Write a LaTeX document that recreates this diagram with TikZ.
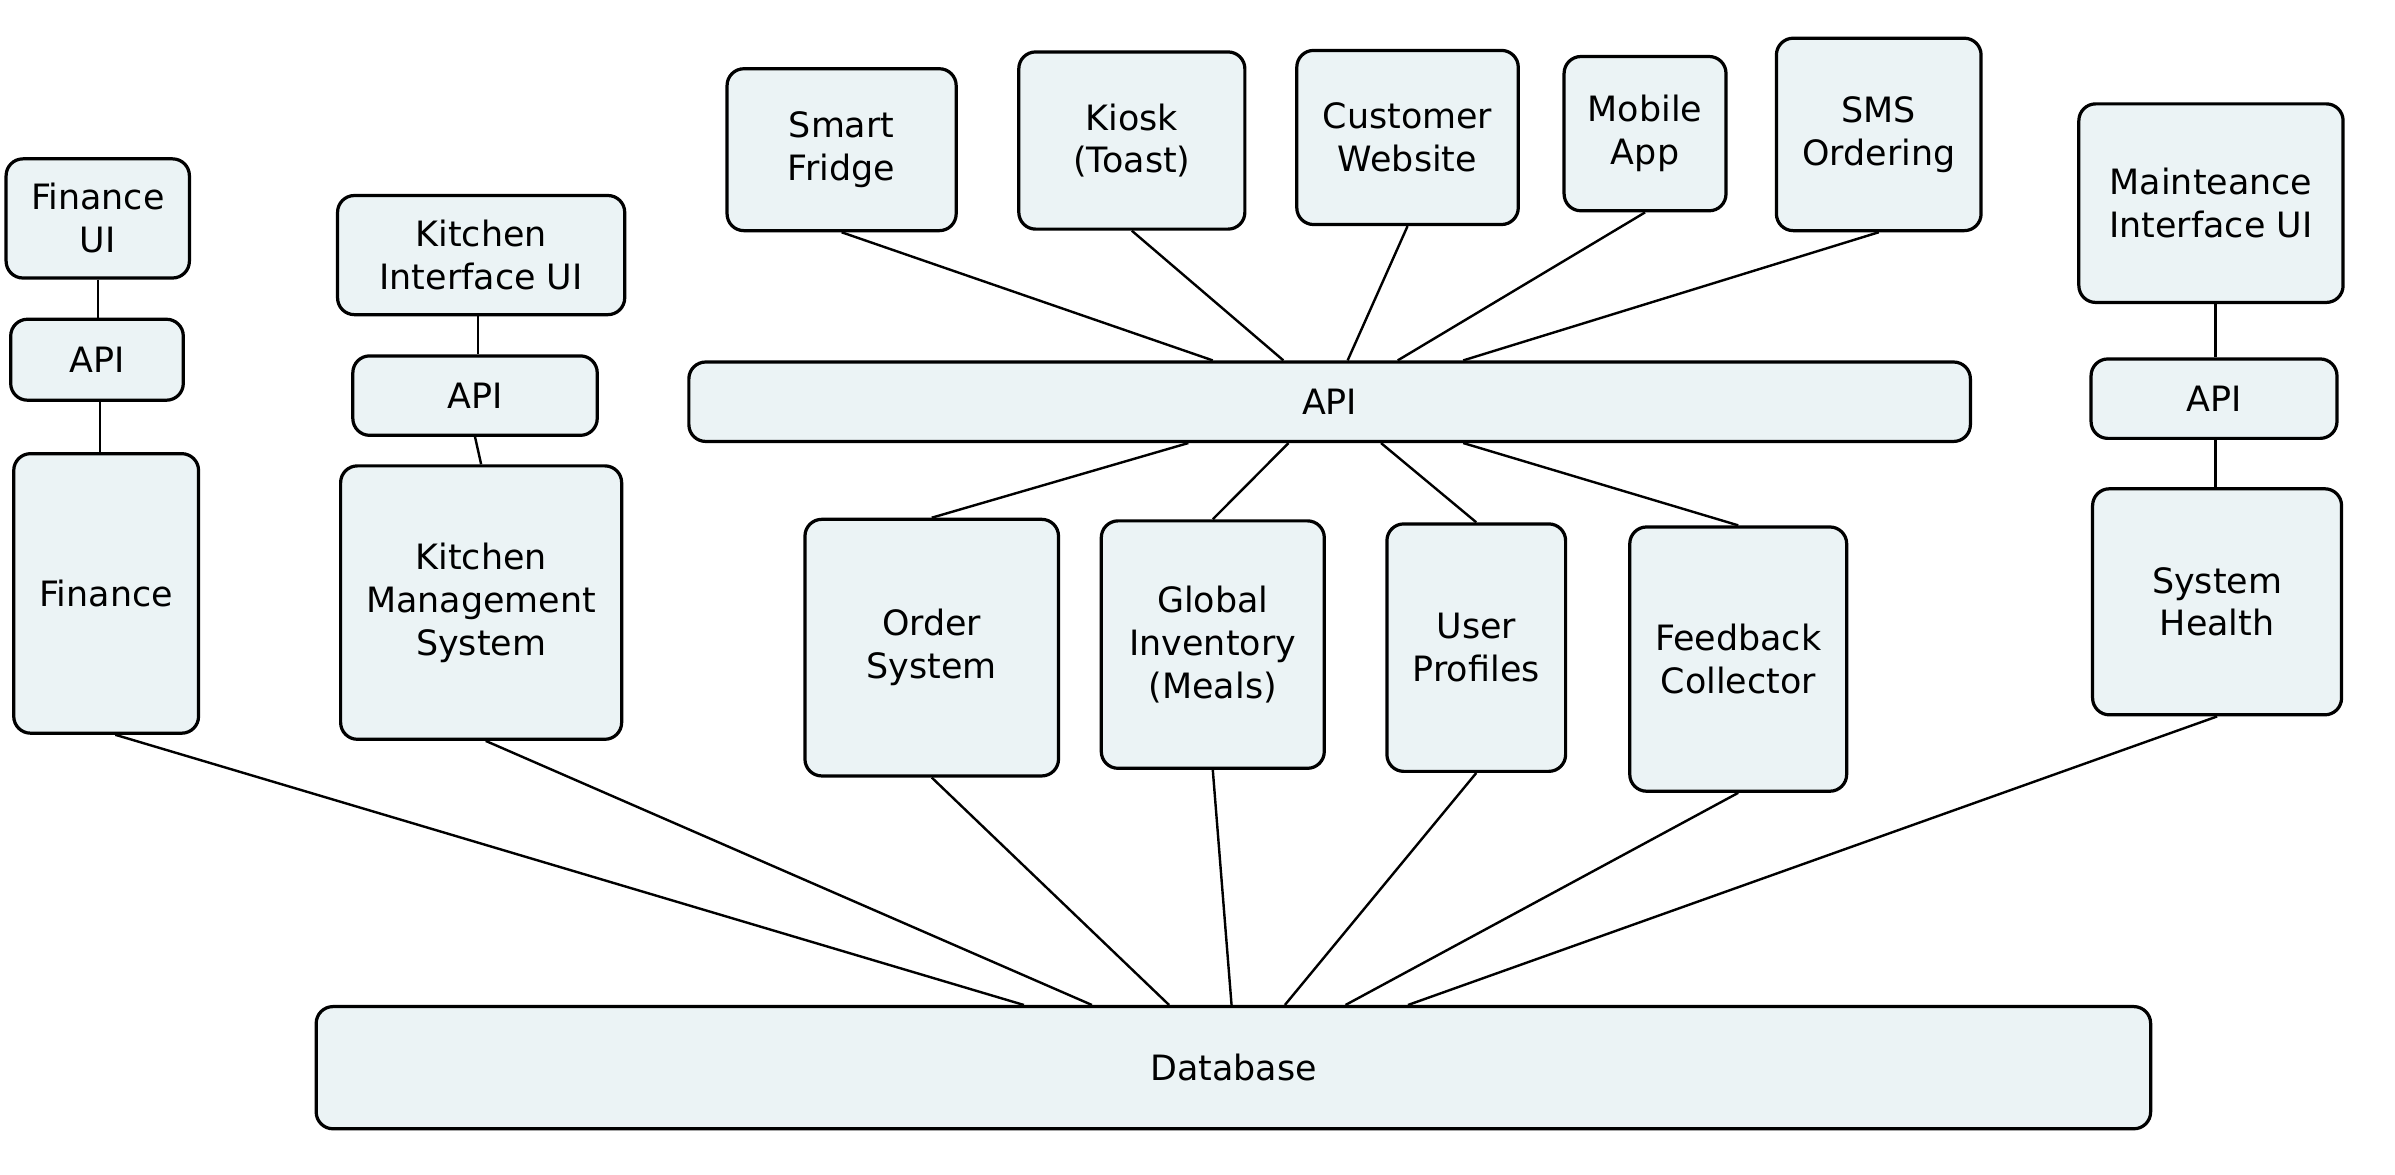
\documentclass[tikz,border=0pt]{standalone}
\usepackage{fontspec}
\setmainfont{DejaVu Sans}
\usetikzlibrary{calc}

\definecolor{boxfill}{RGB}{235,243,245}

\tikzset{
  blk/.style={draw=black, line width=1.2pt, fill=boxfill, rounded corners=0.22cm,
    align=center, inner sep=0pt, font=\fontsize{13}{16}\selectfont},
  link/.style={line width=0.9pt}
}

\begin{document}
\begin{tikzpicture}
        \useasboundingbox (0,0) rectangle (31.36,-15.38);

        % Finance column
        \node[blk, minimum width=2.40cm, minimum height=1.56cm] (finui) at (1.28,-2.86) {Finance\\UI};
        \node[blk, minimum width=2.26cm, minimum height=1.06cm] (finapi) at (1.27,-4.71) {API};
        \node[blk, minimum width=2.42cm, minimum height=3.66cm] (fin) at (1.39,-7.77) {Finance};

        % Kitchen column
        \node[blk, minimum width=3.76cm, minimum height=1.56cm] (kitui) at (6.30,-3.34) {Kitchen\\Interface UI};
        \node[blk, minimum width=3.20cm, minimum height=1.04cm] (kitapi) at (6.22,-5.18) {API};
        \node[blk, minimum width=3.68cm, minimum height=3.58cm] (kms) at (6.30,-7.89) {Kitchen\\Management\\System};

        % Ordering front ends
        \node[blk, minimum width=3.00cm, minimum height=2.12cm] (fridge) at (11.02,-1.96) {Smart\\Fridge};
        \node[blk, minimum width=2.96cm, minimum height=2.32cm] (kiosk) at (14.82,-1.84) {Kiosk\\(Toast)};
        \node[blk, minimum width=2.90cm, minimum height=2.28cm] (web) at (18.43,-1.80) {Customer\\Website};
        \node[blk, minimum width=2.12cm, minimum height=2.02cm] (mobile) at (21.54,-1.75) {Mobile\\App};
        \node[blk, minimum width=2.68cm, minimum height=2.52cm] (sms) at (24.60,-1.76) {SMS\\Ordering};

        % Shared API
        \node[blk, minimum width=16.78cm, minimum height=1.04cm] (api) at (17.41,-5.26) {API};

        % Services
        \node[blk, minimum width=3.32cm, minimum height=3.36cm] (order) at (12.20,-8.48) {Order\\System};
        \node[blk, minimum width=2.92cm, minimum height=3.24cm] (inv) at (15.88,-8.44) {Global\\Inventory\\(Meals)};
        \node[blk, minimum width=2.34cm, minimum height=3.24cm] (users) at (19.33,-8.48) {User\\Profiles};
        \node[blk, minimum width=2.84cm, minimum height=3.46cm] (feedback) at (22.76,-8.63) {Feedback\\Collector};

        % Maintenance column
        \node[blk, minimum width=3.46cm, minimum height=2.60cm] (mntui) at (28.95,-2.66) {Mainteance\\Interface UI};
        \node[blk, minimum width=3.22cm, minimum height=1.04cm] (mntapi) at (28.99,-5.22) {API};
        \node[blk, minimum width=3.26cm, minimum height=2.96cm] (health) at (29.03,-7.88) {System\\Health};

        % Database
        \node[blk, minimum width=24.02cm, minimum height=1.60cm] (db) at (16.15,-13.98) {Database};

        % attach points on the wide boxes
        \foreach \n/\f in {at1/0.409, at2/0.464, at3/0.514, at4/0.553, at5/0.604}
          \coordinate (\n) at ($(api.north west)!\f!(api.north east)$);
        \foreach \n/\f in {ab1/0.390, ab2/0.468, ab3/0.540, ab4/0.604}
          \coordinate (\n) at ($(api.south west)!\f!(api.south east)$);
        \foreach \n/\f in {d1/0.386, d2/0.423, d3/0.465, d4/0.499, d5/0.528, d6/0.561, d7/0.595}
          \coordinate (\n) at ($(db.north west)!\f!(db.north east)$);

        % Links (straight down in the side columns)
        \draw[link] (finui.south) -- (finui.south |- finapi.north);
        \draw[link] (finapi.south) ++(0.04,0) coordinate (fa) -- (fa |- fin.north);
        \draw[link] (kitui.south) ++(-0.04,0) coordinate (ka) -- (ka |- kitapi.north);
        \draw[link] (kitapi.south) -- (kms.north);
        \draw[link] (mntapi.north) ++(0.02,0) coordinate (ma) -- (ma |- mntui.south);
        \draw[link] (mntapi.south) ++(0.02,0) coordinate (mb) -- (mb |- health.north);

        \draw[link] (fridge.south) -- (at1);
        \draw[link] (kiosk.south) -- (at2);
        \draw[link] (web.south) -- (at3);
        \draw[link] (mobile.south) -- (at4);
        \draw[link] (sms.south) -- (at5);

        \draw[link] (ab1) -- (order.north);
        \draw[link] (ab2) -- (inv.north);
        \draw[link] (ab3) -- (users.north);
        \draw[link] (ab4) -- (feedback.north);

        \draw[link] (fin.south) ++(0.12,0) coordinate (fb) -- (d1);
        \draw[link] (kms.south) ++(0.06,0) coordinate (kb) -- (d2);
        \draw[link] (order.south) -- (d3);
        \draw[link] (inv.south) -- (d4);
        \draw[link] (users.south) -- (d5);
        \draw[link] (feedback.south) -- (d6);
        \draw[link] (health.south) -- (d7);

    \end{tikzpicture}
\end{document}
